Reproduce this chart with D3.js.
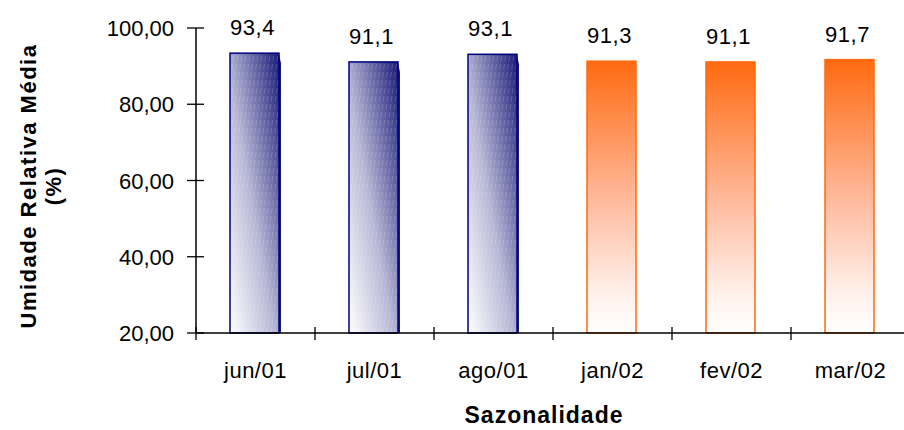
<!DOCTYPE html>
<html><head><meta charset="utf-8">
<script src="https://cdn.jsdelivr.net/npm/d3@7"></script>
<style>body{margin:0;background:#fff}svg{display:block}text{font-family:"Liberation Sans",Arial,sans-serif}</style>
</head><body><svg id="c" width="904" height="430"></svg>
<script>
const categories = ["jun/01","jul/01","ago/01","jan/02","fev/02","mar/02"];
const values = [93.4, 91.1, 93.1, 91.3, 91.1, 91.7];
const groups = ["blue","blue","blue","orange","orange","orange"];
const yTicks = [20, 40, 60, 80, 100];
const yTitle = ["Umidade Relativa Média", "(%)"];
const xTitle = "Sazonalidade";

const svg = d3.select("#c");
const x0 = 196, yTop = 28, yBot = 333, band = 119;
const x = d3.scaleBand().domain(categories).range([x0, x0 + band * categories.length]).paddingInner(0).paddingOuter(0);
const y = d3.scaleLinear().domain([20, 100]).range([yBot, yTop]);
const fmt = v => d3.format(".2f")(v).replace(".", ",");
const fmt1 = v => d3.format(".1f")(v).replace(".", ",");

const defs = svg.append("defs");
const gb = defs.append("linearGradient").attr("id","gBlue").attr("x1","0").attr("y1","1").attr("x2","1").attr("y2","0");
gb.append("stop").attr("offset","0").attr("stop-color","#ffffff");
gb.append("stop").attr("offset","0.45").attr("stop-color","#b8b8d6");
gb.append("stop").attr("offset","1").attr("stop-color","#1a1a78");
const pat = defs.append("pattern").attr("id","stripes").attr("patternUnits","userSpaceOnUse").attr("width",4).attr("height",8).attr("patternTransform","skewX(-8)");
pat.append("rect").attr("x",1).attr("y",0).attr("width",1).attr("height",5).attr("fill","#ffffff").attr("opacity",0.18);
const go = defs.append("linearGradient").attr("id","gOrange").attr("x1","0").attr("y1","0").attr("x2","0").attr("y2","1");
go.append("stop").attr("offset","0").attr("stop-color","#ff6a10");
go.append("stop").attr("offset","0.5").attr("stop-color","#ffb89a");
go.append("stop").attr("offset","0.85").attr("stop-color","#fff0ea");
go.append("stop").attr("offset","1").attr("stop-color","#ffffff");

const bw = 49;
const bars = svg.append("g").selectAll("g").data(categories).join("g");
bars.each(function(c, i) {
  const g = d3.select(this);
  const bx = x(c) + (band - bw) / 2 - 1, by = y(values[i]), bh = yBot - by;
  if (groups[i] === "blue") {
    g.append("path").attr("d", `M${bx+bw},${by+1} L${bx+bw+2},${by+10} L${bx+bw+2},${yBot} L${bx+bw},${yBot} Z`).attr("fill","#1a1a78");
    g.append("rect").attr("x",bx).attr("y",by).attr("width",bw).attr("height",bh).attr("fill","url(#gBlue)");
    g.append("rect").attr("x",bx).attr("y",by).attr("width",bw).attr("height",bh).attr("fill","url(#stripes)");
    g.append("rect").attr("x",bx).attr("y",by).attr("width",bw).attr("height",bh).attr("fill","none").attr("stroke","#000080").attr("stroke-width",1.5);
  } else {
    g.append("rect").attr("x",bx).attr("y",by).attr("width",bw).attr("height",bh).attr("fill","url(#gOrange)").attr("stroke","#ff6a10").attr("stroke-width",1.5);
  }
  g.append("text").attr("x", x(c) + band/2 - 3).attr("y", by - 18).attr("text-anchor","middle").attr("font-size",22).attr("letter-spacing",0.6).attr("fill","#000").text(fmt1(values[i]));
});

// y axis
const ya = svg.append("g");
ya.append("line").attr("x1",x0).attr("x2",x0).attr("y1",yTop).attr("y2",yBot).attr("stroke","#000").attr("stroke-width",1.5);
ya.selectAll("line.t").data(yTicks).join("line").attr("class","t").attr("x1",x0-9).attr("x2",x0+8).attr("y1",d=>y(d)).attr("y2",d=>y(d)).attr("stroke","#000").attr("stroke-width",1.3);
ya.selectAll("text").data(yTicks).join("text").attr("x",x0-22).attr("y",d=>y(d)+8).attr("text-anchor","end").attr("font-size",22).text(fmt);

// x axis
const xa = svg.append("g");
xa.append("line").attr("x1",x0).attr("x2",904).attr("y1",yBot).attr("y2",yBot).attr("stroke","#000").attr("stroke-width",1.5);
const bounds = categories.map(c => x(c)).concat([x(categories[categories.length-1]) + band]);
xa.selectAll("line.t").data(bounds).join("line").attr("class","t").attr("x1",d=>d).attr("x2",d=>d).attr("y1",yBot-6).attr("y2",yBot+7).attr("stroke","#000").attr("stroke-width",1.3);
xa.selectAll("text").data(categories).join("text").attr("x",c=>x(c)+band/2).attr("y",yBot+45).attr("text-anchor","middle").attr("font-size",22).attr("letter-spacing",0.5).text(c=>c);

// titles
svg.append("text").attr("x",544).attr("y",423).attr("text-anchor","middle").attr("font-size",23).attr("letter-spacing",1).attr("font-weight","bold").text(xTitle);
const yt = svg.append("text").attr("transform","translate(36,186) rotate(-90)").attr("text-anchor","middle").attr("font-size",22).attr("letter-spacing",1.5).attr("font-weight","bold");
yt.append("tspan").attr("x",0).attr("dy",0).text(yTitle[0]);
yt.append("tspan").attr("x",0).attr("dy",25).text(yTitle[1]);
</script></body></html>
